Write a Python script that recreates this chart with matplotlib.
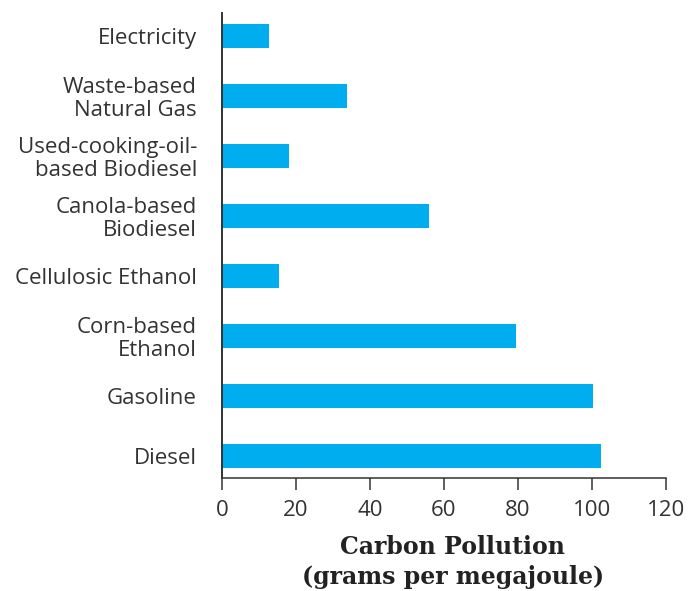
import matplotlib
matplotlib.use("Agg")
import matplotlib.pyplot as plt

categories = ["Electricity", "Waste-based\nNatural Gas", "Used-cooking-oil-\nbased Biodiesel",
              "Canola-based\nBiodiesel", "Cellulosic Ethanol", "Corn-based\nEthanol",
              "Gasoline", "Diesel"]
values = [12.6, 33.7, 18.0, 55.9, 15.3, 79.4, 100.3, 102.4]
xticks = [0, 20, 40, 60, 80, 100, 120]

fig = plt.figure(figsize=(6.91, 5.91), dpi=100)
ax = fig.add_axes([222/691, 1-478/591, 444/691, 465/591])

ypos = list(range(len(categories)))
ax.barh(ypos, values, height=0.4, color="#00AEEF")
ax.set_ylim(7.37, -0.38)
ax.set_xlim(0, 120)
ax.set_xticks(xticks)
ax.set_xticklabels([str(t) for t in xticks])
ax.set_yticks(ypos)
ax.set_yticklabels(categories, fontsize=16, color="#333333", family="Open Sans",
                   linespacing=1.1)
for lbl in ax.get_xticklabels():
    lbl.set_fontsize(16)
    lbl.set_color("#333333")
    lbl.set_family("Open Sans")

for s in ["top", "right"]:
    ax.spines[s].set_visible(False)
ax.spines["left"].set_color("#333333")
ax.spines["left"].set_linewidth(1.4)
ax.spines["bottom"].set_color("#333333")
ax.spines["bottom"].set_linewidth(1.1)
ax.tick_params(axis="y", length=0, pad=18)
ax.tick_params(axis="x", length=8.5, width=1.1, color="#333333", pad=7)

ax.set_xlabel("Carbon Pollution\n(grams per megajoule)", fontsize=17, fontweight="bold",
              family="DejaVu Serif", color="#222222", linespacing=1.35)
ax.xaxis.set_label_coords(0.52, -0.122, transform=ax.transAxes)
ax.xaxis.label.set_va("top")

fig.savefig("out.png", dpi=100, facecolor="white")
